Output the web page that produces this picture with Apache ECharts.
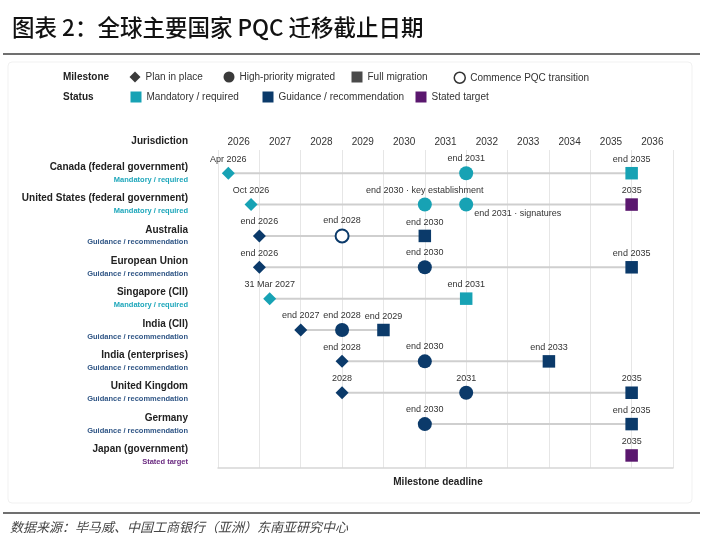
<!DOCTYPE html>
<html>
<head>
<meta charset="utf-8">
<script src="https://cdn.jsdelivr.net/npm/echarts@6/dist/echarts.min.js"></script>
<style>
html,body{margin:0;padding:0;background:#fff;}
#c{width:706px;height:544px;}
</style>
</head>
<body>
<div id="c"></div>
<script>
// ---------- data ----------
const years = ['2026','2027','2028','2029','2030','2031','2032','2033','2034','2035','2036'];
const jurisdictions = ['Canada (federal government)','United States (federal government)','Australia','European Union','Singapore (CII)','India (CII)','India (enterprises)','United Kingdom','Germany','Japan (government)'];
const statuses = ['Mandatory / required','Mandatory / required','Guidance / recommendation','Guidance / recommendation','Mandatory / required','Guidance / recommendation','Guidance / recommendation','Guidance / recommendation','Guidance / recommendation','Stated target'];

const planRow  = [0, 1, 2, 3, 4, 5, 6, 7];
const planDate = [2026.25, 2026.8, 2027, 2027, 2027.25, 2028, 2029, 2029];
const planText = ['Apr 2026','Oct 2026','end 2026','end 2026','31 Mar 2027','end 2027','end 2028','2028'];

const priorityRow  = [0, 1, 1, 3, 5, 6, 7, 8];
const priorityDate = [2032, 2031, 2032, 2031, 2029, 2031, 2032, 2031];
const priorityText = ['end 2031','end 2030 · key establishment','end 2031 · signatures','end 2030','end 2028','end 2030','2031','end 2030'];

const fullRow    = [0, 1, 2, 3, 4, 5, 6, 7, 8, 9];
const fullDate   = [2036, 2036, 2031, 2036, 2032, 2030, 2034, 2036, 2036, 2036];
const fullText   = ['end 2035','2035','end 2030','end 2035','end 2031','end 2029','end 2033','2035','end 2035','2035'];
const fullStatus = ['Mandatory / required','Stated target','Guidance / recommendation','Guidance / recommendation','Mandatory / required','Guidance / recommendation','Guidance / recommendation','Guidance / recommendation','Guidance / recommendation','Stated target'];

const commenceRow  = [2];
const commenceDate = [2029];
const commenceText = ['end 2028'];

const milestoneNames = ['Plan in place','High-priority migrated','Full migration','Commence PQC transition'];
const statusNames = ['Mandatory / required','Guidance / recommendation','Stated target'];

// ---------- styles ----------
const statusColor = {
  'Mandatory / required': '#17a2b4',
  'Guidance / recommendation': '#0b3a6a',
  'Stated target': '#5a176e'
};
const statusKey = {'Mandatory / required':'m','Guidance / recommendation':'g','Stated target':'t'};
const belowRight = new Set(['end 2031 · signatures']);
const FONT = '"Liberation Sans", Arial, sans-serif';
const CJK = '"Noto Sans CJK SC", sans-serif';

function pts(rows, dates, texts, colorFn) {
  return rows.map((r, i) => {
    const d = {name: texts[i], value: [dates[i], r], itemStyle: {color: colorFn(i, r), opacity: 1}};
    if (belowRight.has(texts[i])) {
      d.label = {position: 'right', distance: 1, offset: [0, 9]};
    }
    return d;
  });
}

// connector lines per row
const allRows = [].concat(planRow, priorityRow, fullRow, commenceRow);
const allDates = [].concat(planDate, priorityDate, fullDate, commenceDate);
const lineSeries = [];
jurisdictions.forEach((j, r) => {
  const ds = allDates.filter((d, i) => allRows[i] === r);
  if (ds.length > 1) {
    lineSeries.push({
      type: 'line', silent: true, symbol: 'none', z: 1,
      lineStyle: {color: '#cfcfcf', width: 2},
      data: [[Math.min(...ds), r], [Math.max(...ds), r]]
    });
  }
});

const labelCommon = {show: true, position: 'top', distance: 3, formatter: '{b}', color: '#333', fontSize: 9, fontFamily: FONT};

const series = lineSeries.concat([
  {
    name: 'Plan in place', type: 'scatter', symbol: 'diamond', symbolSize: 13, z: 3,
    itemStyle: {opacity: 1}, label: labelCommon,
    data: pts(planRow, planDate, planText, (i, r) => statusColor[statuses[r]])
  },
  {
    name: 'High-priority migrated', type: 'scatter', symbol: 'circle', symbolSize: 14, z: 3,
    itemStyle: {opacity: 1}, label: labelCommon,
    data: pts(priorityRow, priorityDate, priorityText, (i, r) => statusColor[statuses[r]])
  },
  {
    name: 'Full migration', type: 'scatter', symbol: 'rect', symbolSize: 12.5, z: 3,
    itemStyle: {opacity: 1}, label: labelCommon,
    data: pts(fullRow, fullDate, fullText, (i, r) => statusColor[fullStatus[i]])
  },
  {
    name: 'Commence PQC transition', type: 'scatter', symbol: 'circle', symbolSize: 13, z: 3,
    itemStyle: {opacity: 1}, label: labelCommon,
    data: commenceRow.map((r, i) => ({
      name: commenceText[i], value: [commenceDate[i], r],
      itemStyle: {color: '#fff', borderColor: statusColor[statuses[r]], borderWidth: 2, opacity: 1}
    }))
  }
]).concat(statusNames.map(n => ({
  name: n, type: 'scatter', data: [], itemStyle: {color: statusColor[n], opacity: 1}
})));

const milestoneIcon = {
  'Plan in place': {icon: 'diamond', itemStyle: {color: '#3a3a3a', opacity: 1}},
  'High-priority migrated': {icon: 'circle', itemStyle: {color: '#3a3a3a', opacity: 1}},
  'Full migration': {icon: 'rect', itemStyle: {color: '#4a4a4a', opacity: 1}},
  'Commence PQC transition': {icon: 'circle', itemStyle: {color: '#fff', borderColor: '#333', borderWidth: 1.5, opacity: 1}}
};
const milestoneLeft = [129.5, 223.5, 351.5, 453.5];
const statusLeft = [130.5, 262.5, 415.5];

const legends = milestoneNames.map((n, i) => ({
  left: milestoneLeft[i], top: 71.5, padding: 0, itemWidth: 11, itemHeight: 11, itemGap: 0,
  selectedMode: false, textStyle: {fontSize: 10, color: '#333', fontFamily: FONT},
  data: [Object.assign({name: n}, milestoneIcon[n])]
})).concat(statusNames.map((n, i) => ({
  left: statusLeft[i], top: 91.5, padding: 0, itemWidth: 11, itemHeight: 11, itemGap: 0,
  selectedMode: false, textStyle: {fontSize: 10, color: '#333', fontFamily: FONT},
  data: [{name: n, icon: 'rect', itemStyle: {color: statusColor[n], opacity: 1}}]
})));

const option = {
  animation: false,
  backgroundColor: '#fff',
  textStyle: {fontFamily: FONT},
  grid: {left: 218, right: 33, top: 150, bottom: 76},
  legend: legends,
  xAxis: [
    {
      type: 'value', min: 2026, max: 2037, interval: 1, position: 'bottom',
      axisLabel: {show: false}, axisTick: {show: false},
      axisLine: {show: true, onZero: false, lineStyle: {color: '#d6d6d6', width: 1.5}},
      splitLine: {show: true, lineStyle: {color: '#e6e6e6', width: 1}},
      name: 'Milestone deadline', nameLocation: 'middle', nameGap: 9,
      nameTextStyle: {fontSize: 10, fontWeight: 'bold', color: '#222', fontFamily: FONT, padding: [0, 15, 0, 0]}
    },
    {
      type: 'category', data: years, position: 'top', boundaryGap: true,
      axisLine: {show: false, onZero: false}, axisTick: {show: false}, splitLine: {show: false},
      axisLabel: {margin: 3, fontSize: 10, color: '#333', fontFamily: FONT}
    }
  ],
  yAxis: {
    type: 'value', min: -0.74, max: 9.4, inverse: true,
    axisLine: {show: false, onZero: false}, axisTick: {show: false}, splitLine: {show: false},
    axisLabel: {
      customValues: jurisdictions.map((j, i) => i),
      margin: 30,
      formatter: (v) => {
        const r = Math.round(v);
        return '{n|' + jurisdictions[r] + '}\n{' + statusKey[statuses[r]] + '|' + statuses[r] + '}';
      },
      rich: {
        n: {fontSize: 10, fontWeight: 'bold', color: '#222', lineHeight: 13, fontFamily: FONT, align: 'right'},
        m: {fontSize: 7.5, fontWeight: 'bold', color: '#1ea7bb', lineHeight: 12, fontFamily: FONT, align: 'right'},
        g: {fontSize: 7.5, fontWeight: 'bold', color: '#2f5585', lineHeight: 12, fontFamily: FONT, align: 'right'},
        t: {fontSize: 7.5, fontWeight: 'bold', color: '#6a2a80', lineHeight: 12, fontFamily: FONT, align: 'right'}
      }
    }
  },
  series: series,
  graphic: [
    {type: 'text', left: 12, top: 16, style: {text: '图表 2：全球主要国家 PQC 迁移截止日期', font: '500 22.5px ' + CJK, fill: '#111'}},
    {type: 'rect', shape: {x: 3, y: 53, width: 697, height: 2}, style: {fill: '#707070'}, silent: true},
    {type: 'rect', shape: {x: 8, y: 62, width: 684, height: 441, r: 4}, style: {fill: 'none', stroke: '#f1f1f1', lineWidth: 1}, silent: true, z: -1},
    {type: 'text', x: 63, y: 77, style: {text: 'Milestone', font: 'bold 10px ' + FONT, fill: '#222', verticalAlign: 'middle'}},
    {type: 'text', x: 63, y: 97, style: {text: 'Status', font: 'bold 10px ' + FONT, fill: '#222', verticalAlign: 'middle'}},
    {type: 'text', x: 188, y: 141, style: {text: 'Jurisdiction', font: 'bold 10px ' + FONT, fill: '#222', align: 'right', verticalAlign: 'middle'}},
    {type: 'rect', shape: {x: 3, y: 512, width: 697, height: 2}, style: {fill: '#707070'}, silent: true},
    {type: 'text', x: 10, y: 527, style: {text: '数据来源：毕马威、中国工商银行（亚洲）东南亚研究中心', font: 'italic 13px ' + CJK, fill: '#444', verticalAlign: 'middle'}}
  ]
};

const chart = echarts.init(document.getElementById('c'), null, {renderer: 'canvas'});
chart.setOption(option);
</script>
</body>
</html>
